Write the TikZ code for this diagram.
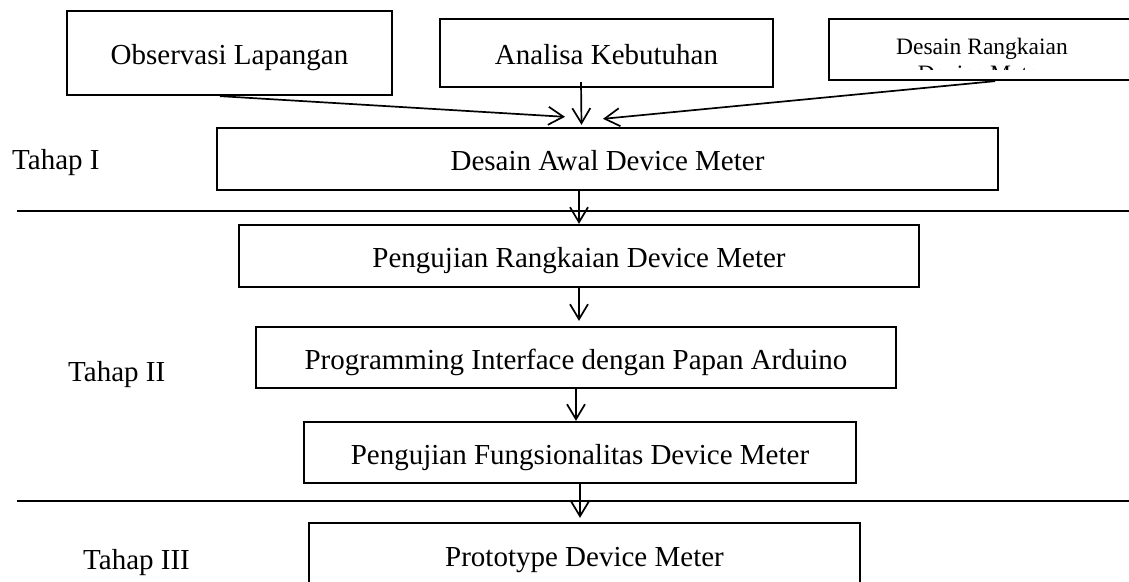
\documentclass[tikz,border=0pt]{standalone}
\usepackage{fontspec}
\setmainfont{Liberation Serif}
\usetikzlibrary{arrows.meta, positioning, calc}

\begin{document}
\begin{tikzpicture}[
    x=1pt, y=1pt,
    blk/.style={draw, line width=2.3pt, inner sep=0pt, align=center, text height=24pt, text depth=0pt, font=\fontsize{29}{34}\selectfont},
    arrow/.style={-{Straight Barb[length=15pt, width=18pt]}, line width=1.7pt},
    divider/.style={line width=1.7pt},
    tahap/.style={anchor=base west, inner sep=0pt, font=\fontsize{29}{34}\selectfont}
  ]
    \clip (0,0) rectangle (1129,581);

    % Tahap I
    \node[blk, minimum width=325, minimum height=84] (obs) at (229.5,528) {Observasi Lapangan};
    \node[blk, minimum width=333, minimum height=68] (ana) at (606.5,528) {Analisa Kebutuhan};
    \node[blk, minimum width=306, minimum height=61] (rng) at (982,531.5) {};
    \begin{scope}
      \clip (829,511) rectangle (1135,562);
      \node[inner sep=0pt, align=center, font=\fontsize{23.5}{27}\selectfont] (rngtxt) at (982,521.5) {Desain Rangkaian\\Device Meter};
    \end{scope}
    \node[blk, minimum width=781, minimum height=62] (awal) at (607.5,422) {Desain Awal Device Meter};

    % Tahap II
    \node[blk, minimum width=680, minimum height=62] (prr) at (579,325) {Pengujian Rangkaian Device Meter};
    \node[blk, minimum width=640, minimum height=61] (prog) at (576,223.5) {Programming Interface dengan Papan Arduino};
    \node[blk, minimum width=552, minimum height=61] (fung) at (580,128.5) {Pengujian Fungsionalitas Device Meter};

    % Tahap III
    \node[blk, minimum width=551, minimum height=62] (proto) at (584.5,27) {Prototype Device Meter};

    % labels
    \node[tahap] (t1) at (12,411) {Tahap I};
    \node[tahap] (t2) at (68,199) {Tahap II};
    \node[tahap] (t3) at (83,12) {Tahap III};

    % dividers
    \coordinate (d1) at (17,370);
    \coordinate (d2) at (17,80);
    \draw[divider] (d1) -- ++(1120,0);
    \draw[divider] (d2) -- ++(1120,0);

    % arrows
    \coordinate (hub) at ([xshift=-26pt]awal.north);
    \draw[arrow] ([xshift=-9.5pt]obs.south) -- ([shift={(-16.5,10)}]hub);
    \draw[arrow] ([shift={(-25.5,6)}]ana.south) -- ([yshift=2pt]hub);
    \draw[arrow] ([xshift=13pt]rng.south) -- ([shift={(21.5,8)}]hub);
    \draw[arrow] (awal.south -| prr.north) -- (prr.north);
    \draw[arrow, shorten >=5pt] (prr.south) -- (prr.south |- prog.north);
    \draw[arrow] (prog.south) -- (prog.south |- fung.north);
    \draw[arrow, shorten >=4pt] (fung.south) -- (fung.south |- proto.north);
\end{tikzpicture}
\end{document}
